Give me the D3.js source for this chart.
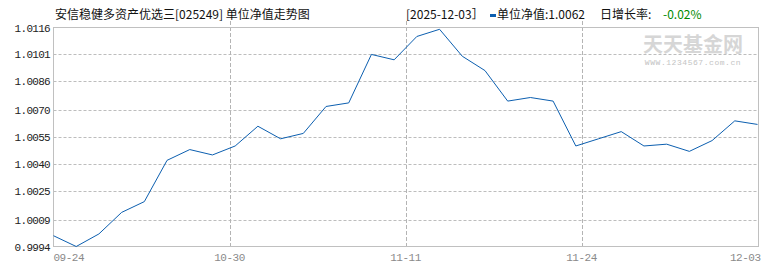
<!DOCTYPE html>
<html>
<head>
<meta charset="utf-8">
<script src="https://cdn.jsdelivr.net/npm/d3@7"></script>
<style>
	body { margin: 0; background: #fff; }
	svg { display: block; }
</style>
</head>
<body>
<div id="chart"></div>
<script>

var navValues = [
	1.0000, 0.9994, 1.0001, 1.0013, 1.0019, 1.0042, 1.0048, 1.0045,
	1.0050, 1.0061, 1.0054, 1.0057, 1.0072, 1.0074, 1.0101, 1.0098,
	1.0111, 1.0115, 1.0100, 1.0092, 1.0075, 1.0077, 1.0075, 1.0050,
	1.0054, 1.0058, 1.0050, 1.0051, 1.0047, 1.0053, 1.0064, 1.0062
]
var xTickLabels = ['09-24', '10-30', '11-11', '11-24', '12-03']
var yTickLabels = ['0.9994', '1.0009', '1.0025', '1.0040', '1.0055', '1.0070', '1.0086', '1.0101', '1.0116']
var yMin = 0.9994
var yMax = 1.0116

var title = '安信稳健多资产优选三[025249] 单位净值走势图'
var lastDate = '[2025-12-03］'
var lastNav = '单位净值:1.0062'
var rateLabel = '日增长率:'
var lastRate = '-0.02%'

makeChart()

function makeChart() {
	var width = 770
	var height = 270

	var frame = { left: 53.5, right: 758.5, top: 27.5, bottom: 246.5 }

	var svg = d3.select('#chart').append('svg')
		.attr('width', width)
		.attr('height', height)

	var xScale = d3.scaleLinear()
		.domain([0, navValues.length - 1])
		.range([frame.left, frame.right - 1])

	var yScale = d3.scaleLinear()
		.domain([yMin, yMax])
		.range([frame.bottom, frame.top])

	var cjk = '"Noto Sans CJK SC", "Noto Sans", sans-serif'
	var mono = '"Liberation Mono", "DejaVu Sans Mono", monospace'

	// watermark
	svg.append('text')
		.attr('x', 693)
		.attr('y', 52)
		.attr('text-anchor', 'middle')
		.attr('font-family', cjk)
		.attr('font-weight', 'bold')
		.attr('font-size', 20)
		.attr('fill', '#d6d6d6')
		.text('天天基金网')

	svg.append('text')
		.attr('x', 693)
		.attr('y', 65)
		.attr('text-anchor', 'middle')
		.attr('font-family', mono)
		.attr('font-size', 8)
		.attr('letter-spacing', 0.55)
		.attr('fill', '#c4c4c4')
		.text('WWW.1234567.com.cn')

	// horizontal grid
	svg.append('g').selectAll('line')
		.data(yTickLabels.slice(1, -1))
		.enter().append('line')
		.attr('x1', frame.left)
		.attr('x2', frame.right)
		.attr('y1', function(d) { return Math.round(yScale(+d)) + 0.5 })
		.attr('y2', function(d) { return Math.round(yScale(+d)) + 0.5 })
		.attr('stroke', '#bdbdbd')
		.attr('stroke-dasharray', '3,2')

	// vertical grid
	var xTickPos = xTickLabels.map(function(d, i) {
		return (navValues.length - 1) * i / (xTickLabels.length - 1)
	})

	svg.append('g').selectAll('line')
		.data(xTickPos.slice(1, -1))
		.enter().append('line')
		.attr('x1', function(d) { return Math.round(xScale(d)) + 0.5 })
		.attr('x2', function(d) { return Math.round(xScale(d)) + 0.5 })
		.attr('y1', 21)
		.attr('y2', frame.bottom)
		.attr('stroke', '#b4b4b4')
		.attr('stroke-dasharray', '4,2')

	// frame
	svg.append('rect')
		.attr('x', frame.left)
		.attr('y', frame.top)
		.attr('width', frame.right - frame.left)
		.attr('height', frame.bottom - frame.top)
		.attr('fill', 'none')
		.attr('stroke', '#c0c0c0')

	// y labels
	svg.append('g').selectAll('text')
		.data(yTickLabels)
		.enter().append('text')
		.attr('x', 50)
		.attr('y', function(d) { return yScale(+d) + 4 })
		.attr('text-anchor', 'end')
		.attr('font-family', mono)
		.attr('font-size', 11)
		.attr('letter-spacing', -0.7)
		.attr('fill', '#222')
		.text(function(d) { return d })

	// x labels
	svg.append('g').selectAll('text')
		.data(xTickLabels)
		.enter().append('text')
		.attr('x', function(d, i) {
			if (i === 0) return frame.left
			if (i === xTickLabels.length - 1) return frame.right + 2
			return xScale(xTickPos[i])
		})
		.attr('y', 261)
		.attr('text-anchor', function(d, i) {
			if (i === 0) return 'start'
			if (i === xTickLabels.length - 1) return 'end'
			return 'middle'
		})
		.attr('font-family', mono)
		.attr('font-size', 11)
		.attr('letter-spacing', -0.5)
		.attr('fill', '#8a8a8a')
		.text(function(d) { return d })

	// line
	var line = d3.line()
		.x(function(d, i) { return xScale(i) })
		.y(function(d) { return yScale(d) })

	svg.append('path')
		.datum(navValues)
		.attr('d', line)
		.attr('fill', 'none')
		.attr('stroke', '#0c5fb0')
		.attr('stroke-width', 1)

	// header
	var header = svg.append('g')
		.attr('font-family', cjk)
		.attr('font-size', 12)
		.attr('fill', '#111')

	header.append('text')
		.attr('x', 55)
		.attr('y', 19)
		.text(title)

	header.append('text')
		.attr('x', 406)
		.attr('y', 19)
		.text(lastDate)

	header.append('rect')
		.attr('x', 490)
		.attr('y', 14)
		.attr('width', 6)
		.attr('height', 3)
		.attr('fill', '#0c5fb0')

	header.append('text')
		.attr('x', 497)
		.attr('y', 19)
		.text(lastNav)

	header.append('text')
		.attr('x', 600)
		.attr('y', 19)
		.text(rateLabel)

	header.append('text')
		.attr('x', 663)
		.attr('y', 19)
		.attr('fill', '#008a00')
		.text(lastRate)
}
</script>
</body>
</html>
